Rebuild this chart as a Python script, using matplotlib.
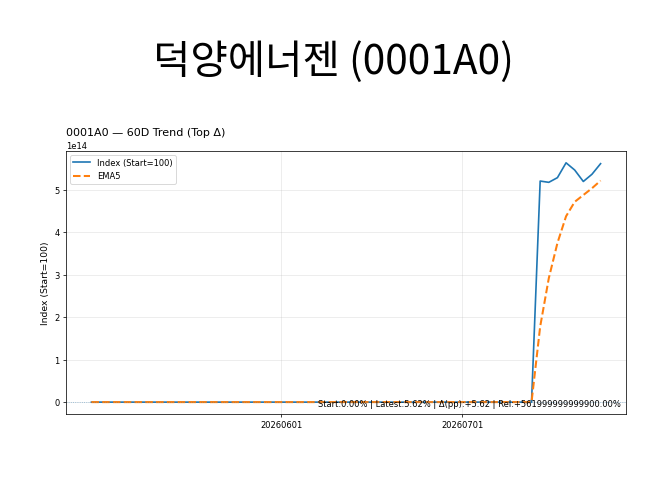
import numpy as np
import pandas as pd
import matplotlib
matplotlib.use("Agg")
import matplotlib.pyplot as plt

# trading days (KRX, holidays removed)
holidays = ["2026-05-01", "2026-05-05", "2026-05-25", "2026-06-03"]
dates = [d.strftime("%Y%m%d") for d in pd.bdate_range("2026-04-27", "2026-07-23")
         if d.strftime("%Y-%m-%d") not in holidays]

# index (Start=100), jumps to ~5e14 near the end
index_vals = [100.0] + [0.0] * 51 + [5.21e14, 5.18e14, 5.29e14, 5.64e14, 5.47e14, 5.20e14, 5.37e14, 5.62e14]
ema5_vals = [100.0] + [0.0] * 51 + [1.78e14, 2.92e14, 3.75e14, 4.38e14, 4.72e14, 4.88e14, 5.04e14, 5.22e14]
tick_labels = ["20260601", "20260701"]

name = "덕양에너젠"
code = "0001A0"
start_pct = 0.00
latest_pct = 5.62
rel_pct = 561999999999900.00

fig = plt.figure(figsize=(10, 7.5), dpi=66.6)
fig.suptitle(f"{name} ({code})", fontsize=44, family=["Noto Sans CJK KR", "DejaVu Sans"], y=0.918)

ax = fig.add_axes([0.099, 0.170, 0.841, 0.527])
x = np.arange(len(index_vals))
ax.plot(x, index_vals, color="#1f77b4", lw=1.8, label="Index (Start=100)")
ax.plot(x, ema5_vals, color="#ff7f0e", lw=2.2, ls="--", label="EMA5")
ax.axhline(100, color="#1f77b4", lw=0.9, ls=":", alpha=0.5)

ax.set_xticks([dates.index(t) for t in tick_labels])
ax.set_xticklabels(tick_labels)
ax.tick_params(labelsize=9)
ax.yaxis.get_offset_text().set_fontsize(9)
ax.grid(True, alpha=0.3)
ax.set_ylabel("Index (Start=100)", fontsize=10)
ax.set_title(f"{code} — 60D Trend (Top Δ)", loc="left", fontsize=12)
ax.legend(loc="upper left", fontsize=9)

ax.text(0.99, 0.02,
        f"Start:{start_pct:.2f}% | Latest:{latest_pct:.2f}% | Δ(pp):{latest_pct - start_pct:+.2f} | Rel:{rel_pct:+.2f}%",
        transform=ax.transAxes, ha="right", va="bottom", fontsize=9)

fig.savefig("out.png", dpi=66.6)
plt.close(fig)
